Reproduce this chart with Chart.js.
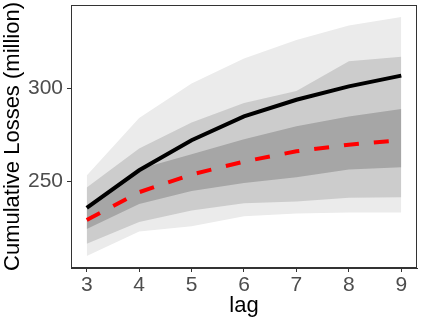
<!DOCTYPE html>
<html>
<head>
<meta charset="utf-8">
<script src="https://cdn.jsdelivr.net/npm/chart.js@4/dist/chart.umd.min.js"></script>
<style>
html,body{margin:0;padding:0;background:#fff;}
#wrap{width:423px;height:323px;}
</style>
</head>
<body>
<div id="wrap"><canvas id="c" width="423" height="323"></canvas></div>
<script>
const lags = [3, 4, 5, 6, 7, 8, 9];
const observed = [235.6, 255.8, 272.0, 284.8, 293.8, 301.0, 306.8];
const predicted = [229.0, 244.0, 253.5, 260.5, 266.0, 269.6, 272.0];
const outerUpper = [253.0, 284.0, 302.5, 316.0, 326.0, 333.8, 338.4];
const midUpper = [246.5, 267.5, 281.5, 292.0, 298.5, 314.6, 317.0];
const darkUpper = [234.5, 256.5, 264.5, 272.5, 279.5, 284.8, 288.8];
const darkLower = [224.2, 237.6, 244.6, 249.0, 252.0, 256.2, 257.4];
const midLower = [216.2, 228.0, 234.2, 238.0, 239.0, 241.0, 241.3];
const outerLower = [209.6, 222.8, 225.7, 231.0, 232.5, 233.0, 233.0];
const xTicks = [3, 4, 5, 6, 7, 8, 9];
const yTicks = [250, 300];

const pts = arr => arr.map((v, i) => ({x: lags[i], y: v}));
const band = (data, fill, color) => ({
  data: pts(data), fill: fill, backgroundColor: color,
  borderWidth: 0, pointRadius: 0, tension: 0, borderColor: 'rgba(0,0,0,0)'
});

const allVals = [].concat(outerUpper, outerLower, observed, predicted);
const vmin = Math.min(...allVals), vmax = Math.max(...allVals);
const pad = (vmax - vmin) * 0.05;

const frame = {
  id: 'frame',
  afterDraw(chart) {
    const a = chart.chartArea, ctx = chart.ctx;
    ctx.save();
    ctx.strokeStyle = '#333333';
    ctx.lineWidth = 1;
    ctx.strokeRect(a.left + 0.5, a.top + 0.5, a.right - a.left - 1, a.bottom - a.top - 1);
    ctx.restore();
  }
};

function noPad(s) { s.paddingTop = 0; s.paddingBottom = 0; s.paddingLeft = 0; s.paddingRight = 0; }

new Chart(document.getElementById('c'), {
  type: 'line',
  data: {
    datasets: [
      {data: pts(observed), borderColor: '#000000', borderWidth: 4, pointRadius: 0, fill: false, tension: 0},
      {data: pts(predicted), borderColor: '#ff0000', borderWidth: 4, borderDash: [15, 15], borderCapStyle: 'butt', pointRadius: 0, fill: false, tension: 0},
      band(darkUpper, 3, '#a6a6a6'),
      band(darkLower, false, '#a6a6a6'),
      band(midUpper, 5, '#cccccc'),
      band(midLower, false, '#cccccc'),
      band(outerUpper, 7, '#ebebeb'),
      band(outerLower, false, '#ebebeb')
    ]
  },
  options: {
    responsive: false,
    animation: false,
    devicePixelRatio: 1,
    layout: {padding: {left: 0, right: 6, top: 5, bottom: 0}},
    plugins: {legend: {display: false}, tooltip: {enabled: false}},
    scales: {
      x: {
        type: 'linear', min: 2.7, max: 9.3,
        afterBuildTicks: s => { s.ticks = xTicks.map(v => ({value: v})); },
        afterFit: s => { s.height = 55; noPad(s); },
        grid: {display: true, drawOnChartArea: false, drawTicks: true, tickLength: 4, color: '#333333', tickWidth: 1},
        border: {display: true, color: '#333333', width: 1},
        ticks: {color: '#4d4d4d', font: {family: 'Liberation Sans', size: 21}, padding: 1, maxRotation: 0},
        title: {display: true, text: 'lag', color: '#000000', font: {family: 'Liberation Sans', size: 22}, padding: {top: 0, bottom: 4}}
      },
      y: {
        type: 'linear', min: vmin - pad, max: vmax + pad,
        afterBuildTicks: s => { s.ticks = yTicks.map(v => ({value: v})); },
        afterFit: s => { s.width = 71; noPad(s); },
        grid: {display: true, drawOnChartArea: false, drawTicks: true, tickLength: 4, color: '#333333', tickWidth: 1},
        border: {display: true, color: '#333333', width: 1},
        ticks: {color: '#4d4d4d', font: {family: 'Liberation Sans', size: 21}, padding: 4},
        title: {display: true, text: 'Cumulative Losses (million)', color: '#000000', font: {family: 'Liberation Sans', size: 22}, padding: {top: 0, bottom: 0}}
      }
    }
  },
  plugins: [frame]
});
</script>
</body>
</html>
